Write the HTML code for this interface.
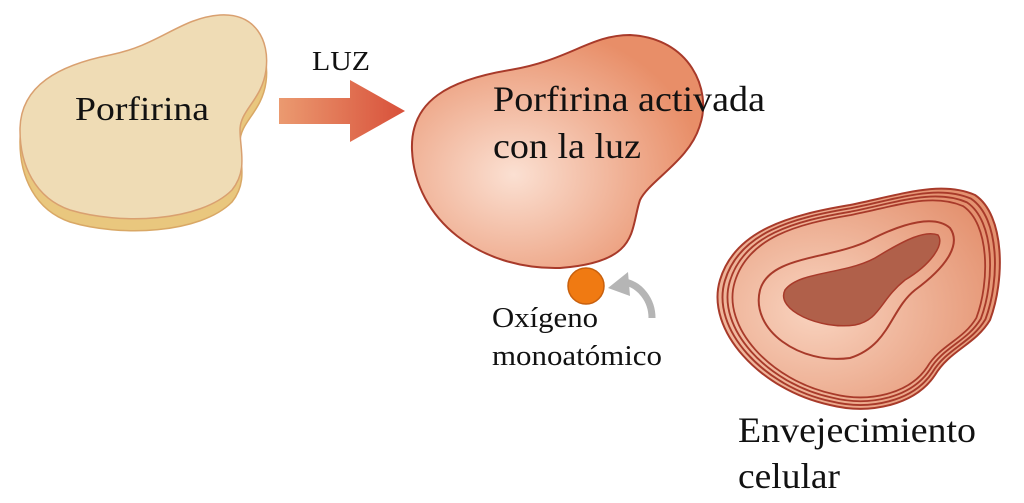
<!DOCTYPE html>
<html><head><meta charset="utf-8"><style>
html,body{margin:0;padding:0;background:#fff;width:1024px;height:503px;overflow:hidden}
svg{display:block}
text{font-family:"Liberation Serif",serif;fill:#111}
</style></head><body>
<svg width="1024" height="503" viewBox="0 0 1024 503" xmlns="http://www.w3.org/2000/svg">
<defs>
<linearGradient id="ar" x1="0" x2="1" y1="0" y2="0"><stop offset="0" stop-color="#eb9a70"/><stop offset="1" stop-color="#d8503a"/></linearGradient>
<radialGradient id="act" cx="0.35" cy="0.6" r="0.65"><stop offset="0" stop-color="#fbe0d2"/><stop offset="1" stop-color="#e88e68"/></radialGradient>
<radialGradient id="cell" cx="0.35" cy="0.55" r="0.7"><stop offset="0" stop-color="#f9d4c0"/><stop offset="1" stop-color="#e49270"/></radialGradient>
</defs>
<!-- Porfirina -->
<g transform="translate(0,12)"><path d="M20,130 C20,85 60,65 110,55 C160,45 180,18 220,15 C255,13 270,40 266,70 C262,100 240,110 240,130 C240,150 248,170 232,190 C200,222 120,225 70,210 C35,198 20,165 20,130 Z" fill="#e9c77e" stroke="#d9a866" stroke-width="1.5"/></g>
<path d="M20,130 C20,85 60,65 110,55 C160,45 180,18 220,15 C255,13 270,40 266,70 C262,100 240,110 240,130 C240,150 248,170 232,190 C200,222 120,225 70,210 C35,198 20,165 20,130 Z" fill="#efdcb5" stroke="#d9a070" stroke-width="1.5"/>
<text x="75" y="120" font-size="34" textLength="134" lengthAdjust="spacingAndGlyphs">Porfirina</text>
<!-- arrow -->
<text x="312" y="70" font-size="27" textLength="58" lengthAdjust="spacingAndGlyphs">LUZ</text>
<path d="M279,98 L350,98 L350,80 L405,111 L350,142 L350,124 L279,124 Z" fill="url(#ar)"/>
<!-- activated -->
<path d="M412,150 C410,100 450,80 510,70 C570,60 590,35 630,35 C690,38 712,90 700,125 C690,160 650,180 640,200 C630,230 640,262 560,268 C480,270 415,220 412,150 Z" fill="url(#act)" stroke="#a83a2a" stroke-width="2"/>
<text x="493" y="111" font-size="36" textLength="272" lengthAdjust="spacingAndGlyphs">Porfirina activada</text>
<text x="493" y="158" font-size="36" textLength="148" lengthAdjust="spacingAndGlyphs">con la luz</text>
<!-- oxygen -->
<circle cx="586" cy="286" r="18" fill="#f07a12" stroke="#c8600e" stroke-width="1.5"/>
<path d="M652,318 C652,300 640,285 625,282" fill="none" stroke="#b5b5b5" stroke-width="7"/>
<path d="M608,288 L628,272 L630,296 Z" fill="#b5b5b5"/>
<text x="492" y="327" font-size="28" textLength="106" lengthAdjust="spacingAndGlyphs">Oxígeno</text>
<text x="492" y="365" font-size="28" textLength="170" lengthAdjust="spacingAndGlyphs">monoatómico</text>
<!-- cell -->
<g stroke="#a83a2a" stroke-width="2">
<path d="M720,280 C735,230 790,215 850,205 C900,195 940,180 975,195 C1005,215 1005,280 990,320 C975,345 950,350 935,375 C915,405 870,415 830,405 C760,390 705,330 720,280 Z" fill="url(#cell)"/>
<g fill="none">
<path transform="translate(860,300) scale(0.965) translate(-860,-300)" d="M720,280 C735,230 790,215 850,205 C900,195 940,180 975,195 C1005,215 1005,280 990,320 C975,345 950,350 935,375 C915,405 870,415 830,405 C760,390 705,330 720,280 Z"/>
<path transform="translate(860,300) scale(0.93) translate(-860,-300)" d="M720,280 C735,230 790,215 850,205 C900,195 940,180 975,195 C1005,215 1005,280 990,320 C975,345 950,350 935,375 C915,405 870,415 830,405 C760,390 705,330 720,280 Z"/>
<path transform="translate(860,300) scale(0.895) translate(-860,-300)" d="M720,280 C735,230 790,215 850,205 C900,195 940,180 975,195 C1005,215 1005,280 990,320 C975,345 950,350 935,375 C915,405 870,415 830,405 C760,390 705,330 720,280 Z"/>
<path d="M760,290 C770,255 830,260 870,240 C905,222 935,215 950,228 C962,245 945,268 915,290 C890,310 890,345 850,358 C800,365 750,330 760,290 Z"/>
</g>
<path d="M785,290 C800,270 850,275 880,255 C905,240 925,230 938,235 C945,245 930,265 905,280 C880,300 880,320 855,325 C820,330 775,310 785,290 Z" fill="#b0604a" stroke-width="1.5"/>
</g>
<text x="738" y="442" font-size="36" textLength="238" lengthAdjust="spacingAndGlyphs">Envejecimiento</text>
<text x="738" y="488" font-size="36" textLength="102" lengthAdjust="spacingAndGlyphs">celular</text>
</svg>
</body></html>
